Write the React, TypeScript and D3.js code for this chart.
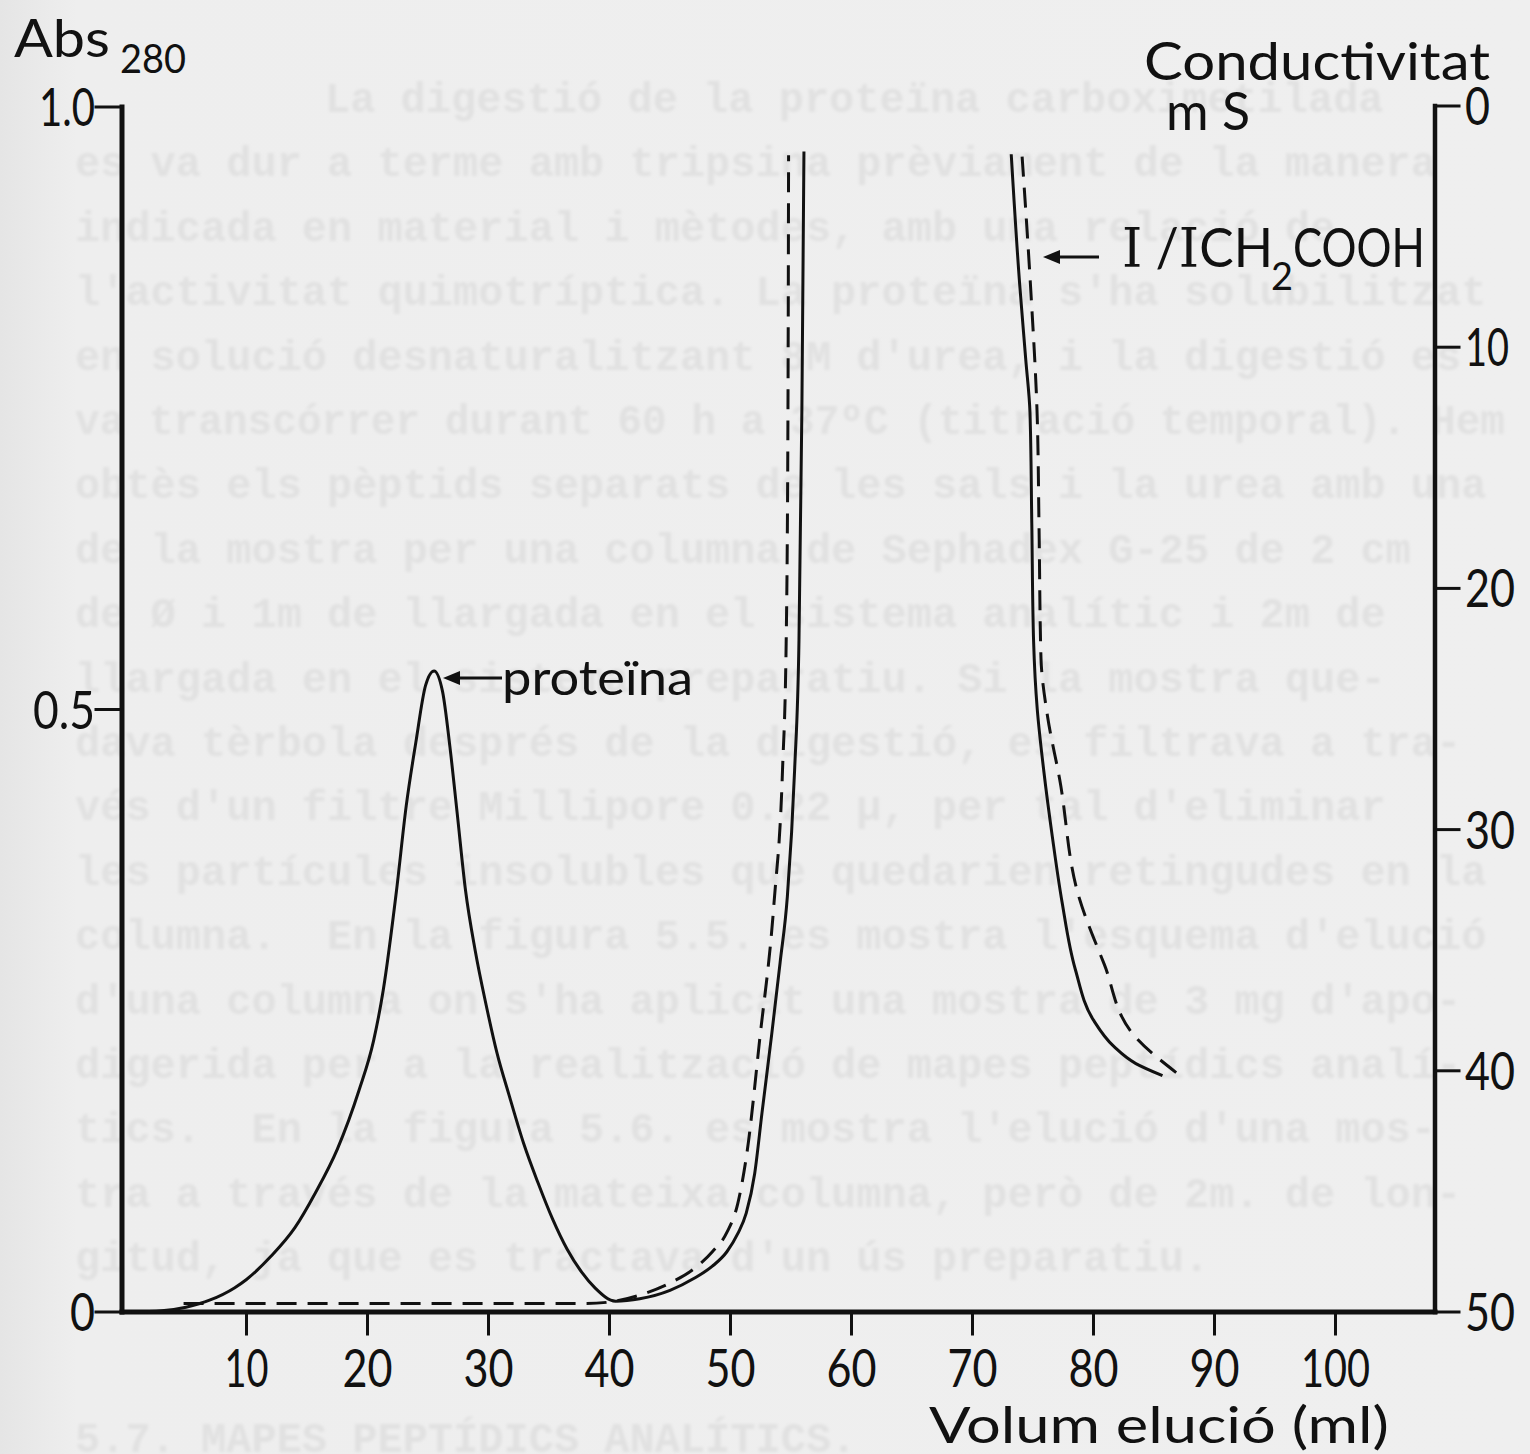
import React from "react";
import * as d3 from "d3";

// ---------- data ----------
const xTickValues = [10, 20, 30, 40, 50, 60, 70, 80, 90, 100];
const absTickValues = [0, 0.5, 1.0];
const absTickLabels = ["0", "0.5", "1.0"];
const condTickValues = [0, 10, 20, 30, 40, 50];

// Abs280, solid (proteïna)
const absSolidVol = [0.5, 3, 5, 7, 9, 10, 12, 14, 15.7, 17.5, 19.3, 20.5, 21.3, 22.4, 23.2, 24.0, 24.8, 25.5, 26.2, 26.8, 27.4, 28.1, 28.9, 29.8, 30.7, 31.7, 32.9, 34.1, 35.3, 36.5, 37.7, 38.8, 40.5, 42.5, 45, 47, 48.5, 49.7, 50.6, 51.3, 52.0, 52.6, 53.4, 54.1, 54.7, 55.3, 55.66, 55.9, 56.07];
const absSolidVal = [0, 0.001, 0.004, 0.01, 0.02, 0.027, 0.046, 0.07, 0.099, 0.135, 0.184, 0.225, 0.267, 0.35, 0.42, 0.473, 0.52, 0.532, 0.515, 0.47, 0.415, 0.35, 0.3, 0.255, 0.215, 0.18, 0.14, 0.107, 0.077, 0.052, 0.033, 0.02, 0.009, 0.011, 0.018, 0.028, 0.038, 0.05, 0.065, 0.082, 0.115, 0.165, 0.23, 0.29, 0.345, 0.45, 0.558, 0.749, 0.963];

// Abs280, dashed
const absDashVol = [4.8, 10, 20, 30, 38, 40.5, 42.5, 45, 47, 48.5, 49.7, 50.6, 51.4, 52.4, 53.6, 54.3, 54.6, 54.75, 54.8];
const absDashVal = [0.007, 0.007, 0.007, 0.007, 0.007, 0.009, 0.014, 0.024, 0.036, 0.05, 0.066, 0.09, 0.135, 0.225, 0.34, 0.45, 0.555, 0.75, 0.96];

// Conductivity (mS), solid
const condSolidVol = [73.2, 73.9, 74.4, 74.75, 74.9, 75.05, 75.35, 75.9, 76.6, 77.4, 78.5, 80.0, 81.7, 83.5, 85.7];
const condSolidVal = [2.0, 7.4, 10.5, 12.7, 17.3, 22.2, 25.0, 27.6, 30.3, 33.0, 35.8, 37.9, 39.0, 39.7, 40.2];

// Conductivity (mS), dashed
const condDashVol = [74.1, 74.8, 75.33, 75.5, 75.66, 76.2, 77.2, 78.8, 80.9, 83.3, 86.9];
const condDashVal = [2.1, 7.5, 12.6, 17.5, 22.9, 25.3, 27.9, 32.8, 35.6, 38.5, 40.1];

// faint text bleeding through from the other side of the page
const ghostLines = [
  "La digestió de la proteïna carboximetilada",
  "es va dur a terme amb tripsina prèviament de la manera",
  "indicada en material i mètodes, amb una relació de",
  "l'activitat quimotríptica. La proteïna s'ha solubilitzat",
  "en solució desnaturalitzant 8M d'urea, i la digestió es",
  "va transcórrer durant 60 h a 37ºC (titració temporal). Hem",
  "obtès els pèptids separats de les sals i la urea amb una",
  "de la mostra per una columna de Sephadex G-25 de 2 cm",
  "de Ø i 1m de llargada en el sistema analític i 2m de",
  "llargada en el sistema preparatiu. Si la mostra que-",
  "dava tèrbola després de la digestió, es filtrava a tra-",
  "vés d'un filtre Millipore 0.22 µ, per tal d'eliminar",
  "les partícules insolubles que quedarien retingudes en la",
  "columna.  En la figura 5.5. es mostra l'esquema d'elució",
  "d'una columna on s'ha aplicat una mostra de 3 mg d'apo-",
  "digerida per a la realització de mapes peptídics analí-",
  "tics.  En la figura 5.6. es mostra l'elució d'una mos-",
  "tra a través de la mateixa columna, però de 2m. de lon-",
  "gitud, ja que es tractava d'un ús preparatiu.",
];
const ghostHeading = "5.7. MAPES PEPTÍDICS ANALÍTICS.";

// ---------- helpers ----------
const zip = (a: number[], b: number[]) => a.map((v, i) => [v, b[i]] as [number, number]);
const digitWidth = (s: string) =>
  s.split("").reduce((acc, c) => acc + (c === "1" ? 19 : c === "." ? 12 : 25), 0);

const FONT = "Lato, 'DejaVu Sans', sans-serif";
const INK = "#111";

export default function App() {
  const W = 1530;
  const H = 1454;

  const x = d3.scaleLinear().domain([0, 100]).range([125.5, 1335.5]);
  const yA = d3.scaleLinear().domain([0, 1]).range([1312, 107]);
  const yC = d3.scaleLinear().domain([0, 50]).range([106, 1312]);

  const leftX = 122;
  const rightX = 1435;
  const baseY = yA(0);

  const lineA = d3
    .line<[number, number]>()
    .x((d) => x(d[0]))
    .y((d) => yA(d[1]))
    .curve(d3.curveMonotoneX);
  const lineC = d3
    .line<[number, number]>()
    .x((d) => x(d[0]))
    .y((d) => yC(d[1]))
    .curve(d3.curveMonotoneY);

  const absSolid = lineA(zip(absSolidVol, absSolidVal)) || "";
  const absDash = lineA(zip(absDashVol, absDashVal)) || "";
  const condSolid = lineC(zip(condSolidVol, condSolidVal)) || "";
  const condDash = lineC(zip(condDashVol, condDashVal)) || "";

  const ghostPitch = 25.2;

  return (
    <svg
      width={W}
      height={H}
      viewBox={`0 0 ${W} ${H}`}
      style={{ position: "absolute", left: 0, top: 0, background: "#eeeeee" }}
    >
      <defs>
        <filter id="blur" x="-5%" y="-50%" width="110%" height="200%">
          <feGaussianBlur stdDeviation="1.8" />
        </filter>
        <linearGradient id="paper" x1="0" x2="1" y1="0" y2="0">
          <stop offset="0" stopColor="#e5e5e5" />
          <stop offset="0.05" stopColor="#eeeeee" />
          <stop offset="1" stopColor="#efefef" />
        </linearGradient>
      </defs>
      <rect x={0} y={0} width={W} height={H} fill="url(#paper)" />

      {/* ghost text */}
      <g
        filter="url(#blur)"
        fill="#e1e1e1"
        fontFamily="'Liberation Mono', 'DejaVu Sans Mono', monospace"
        fontWeight="bold"
        fontSize={42}
      >
        {ghostLines.map((t, i) => {
          const x0 = i === 0 ? 325 : 75;
          const natural = t.length * ghostPitch;
          const fit = x0 + natural > 1505 ? 1505 - x0 : undefined;
          return (
            <text
              key={i}
              x={x0}
              y={112 + i * 64.4}
              xmlSpace="preserve"
              textLength={fit}
              lengthAdjust={fit ? "spacingAndGlyphs" : undefined}
            >
              {t}
            </text>
          );
        })}
        <text x={75} y={1452}>{ghostHeading}</text>
      </g>

      {/* axes */}
      <g stroke={INK} fill="none" strokeLinecap="square">
        <line x1={leftX} x2={leftX} y1={yA(1)} y2={baseY} strokeWidth={5} />
        <line x1={leftX} x2={rightX} y1={baseY} y2={baseY} strokeWidth={5} />
        <line x1={rightX} x2={rightX} y1={yC(0)} y2={baseY} strokeWidth={4.5} />
        {absTickValues.map((v) => (
          <line key={v} x1={96} x2={leftX} y1={yA(v)} y2={yA(v)} strokeWidth={3} />
        ))}
        {xTickValues.map((v) => (
          <line key={v} x1={x(v)} x2={x(v)} y1={baseY} y2={baseY + 22} strokeWidth={3} />
        ))}
        {condTickValues.map((v) => (
          <line key={v} x1={rightX} x2={rightX + 24} y1={yC(v)} y2={yC(v)} strokeWidth={3} />
        ))}
      </g>

      {/* tick labels */}
      <g fill={INK} fontFamily={FONT} fontSize={52}>
        {absTickValues.map((v, i) => (
          <text
            key={v}
            x={95 - digitWidth(absTickLabels[i])}
            y={yA(v) + 19}
            textLength={digitWidth(absTickLabels[i])}
            lengthAdjust="spacingAndGlyphs"
          >
            {absTickLabels[i]}
          </text>
        ))}
        {xTickValues.map((v) => {
          const s = String(v);
          const w = digitWidth(s);
          return (
            <text key={v} x={x(v) - w / 2} y={baseY + 75} textLength={w} lengthAdjust="spacingAndGlyphs">
              {s}
            </text>
          );
        })}
        {condTickValues.map((v) => {
          const s = String(v);
          const w = digitWidth(s);
          return (
            <text key={v} x={1465} y={yC(v) + 19} textLength={w} lengthAdjust="spacingAndGlyphs">
              {s}
            </text>
          );
        })}
      </g>

      {/* axis titles */}
      <g fill={INK} fontFamily={FONT}>
        <text x={14} y={57} fontSize={52} textLength={96} lengthAdjust="spacingAndGlyphs">Abs</text>
        <text x={120} y={73} fontSize={40} textLength={66} lengthAdjust="spacingAndGlyphs">280</text>
        <text x={1144} y={80} fontSize={53} textLength={346} lengthAdjust="spacingAndGlyphs">Conductivitat</text>
        <text x={1166} y={130} fontSize={53} textLength={84} lengthAdjust="spacingAndGlyphs">m S</text>
        <text x={929} y={1443} fontSize={50} textLength={460} lengthAdjust="spacingAndGlyphs">Volum elució (ml)</text>
      </g>

      {/* curves */}
      <g fill="none" stroke={INK} strokeWidth={3} strokeLinejoin="round">
        <path d={absSolid} />
        <path d={absDash} strokeDasharray="20 11" />
        <path d={condSolid} />
        <path d={condDash} strokeDasharray="20 11" />
      </g>

      {/* annotations */}
      <g stroke={INK} strokeWidth={3}>
        <line x1={455} x2={502} y1={678} y2={678} />
        <line x1={1056} x2={1099} y1={257} y2={257} />
      </g>
      <g fill={INK}>
        <path d="M443,678 L460,671 L460,685 Z" />
        <path d="M1043,257 L1060,250 L1060,264 Z" />
      </g>
      <g fill={INK} fontFamily={FONT}>
        <text x={502} y={695} fontSize={48} textLength={191} lengthAdjust="spacingAndGlyphs">proteïna</text>
        <text x={1122} y={267} fontSize={55} textLength={151} lengthAdjust="spacingAndGlyphs">
          <tspan fontFamily="'DejaVu Serif', serif">I</tspan>
          <tspan> /</tspan>
          <tspan fontFamily="'DejaVu Serif', serif">I</tspan>
          <tspan>CH</tspan>
        </text>
        <text x={1271} y={290} fontSize={38} textLength={22} lengthAdjust="spacingAndGlyphs">2</text>
        <text x={1293} y={267} fontSize={55} textLength={132} lengthAdjust="spacingAndGlyphs">COOH</text>
      </g>
    </svg>
  );
}
